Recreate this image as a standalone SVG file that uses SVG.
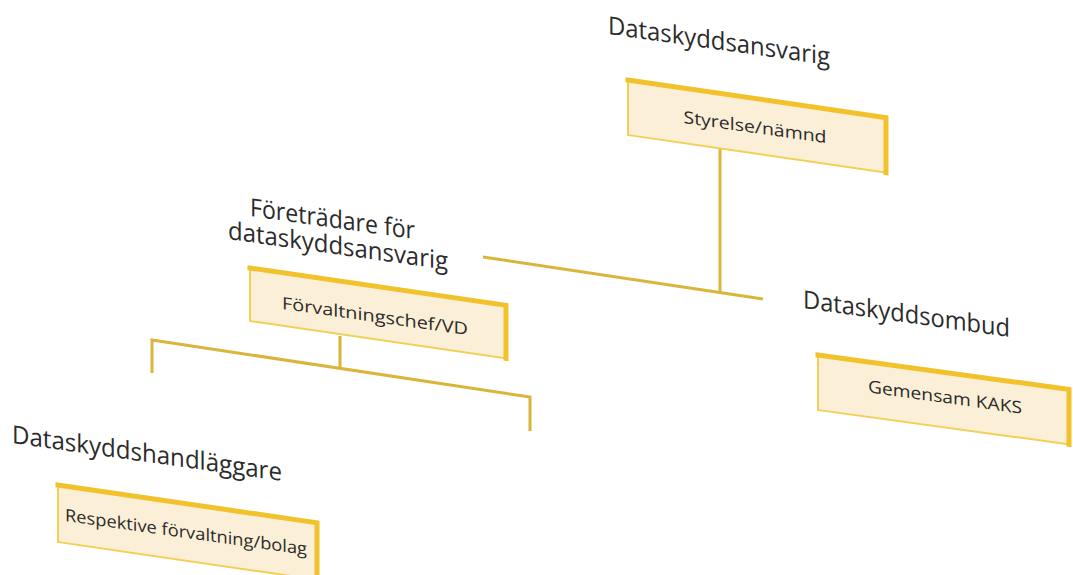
<svg xmlns="http://www.w3.org/2000/svg" width="1073" height="575" viewBox="0 0 1073 575">
<style>
  .title { font-family: "Open Sans", "Liberation Sans", sans-serif; font-size: 25px; fill: #2b2b2b; }
  .label { font-family: "Open Sans", "Liberation Sans", sans-serif; font-size: 17px; font-weight: 500; fill: #2b2b2b; text-anchor: middle; }
  .boxfill { fill: #fcefd7; stroke: #f3cf55; stroke-width: 2; }
  .edge { stroke: #f2c22c; stroke-width: 5; stroke-linecap: square; fill: none; }
  .conn { stroke: #d9b53a; stroke-width: 3; fill: none; stroke-linecap: butt; }
</style>
<rect width="1073" height="575" fill="#ffffff"/>

<g id="connectors">
  <line class="conn" x1="483" y1="257" x2="763" y2="299"/>
  <line class="conn" x1="720" y1="148" x2="720" y2="293"/>
  <line class="conn" x1="340" y1="336" x2="340" y2="369"/>
  <polyline class="conn" points="152,373 152,340 530,397 530,431"/>
</g>

<g id="title-dataskyddsansvarig">
  <text class="title" transform="translate(608,34) skewY(8)" textLength="222" lengthAdjust="spacingAndGlyphs">Dataskyddsansvarig</text>
</g>

<g id="node-styrelse">
  <g transform="translate(628,80) skewY(8.3)">
    <rect class="boxfill" x="0" y="0" width="258" height="55"/>
    <polyline class="edge" points="0,0 258,0 258,55"/>
  </g>
  <text class="label" transform="translate(755,133) skewY(8)" textLength="143" lengthAdjust="spacingAndGlyphs">Styrelse/nämnd</text>
</g>

<g id="title-foretradare">
  <text class="title" transform="translate(250,216) skewY(8)" textLength="165" lengthAdjust="spacingAndGlyphs">Företrädare för</text>
  <text class="title" transform="translate(228,239) skewY(8)" textLength="220" lengthAdjust="spacingAndGlyphs">dataskyddsansvarig</text>
</g>

<g id="node-forvaltningschef">
  <g transform="translate(250,268) skewY(8.3)">
    <rect class="boxfill" x="0" y="0" width="256" height="53"/>
    <polyline class="edge" points="0,0 256,0 256,53"/>
  </g>
  <text class="label" transform="translate(375,322) skewY(8)" textLength="186" lengthAdjust="spacingAndGlyphs">Förvaltningschef/VD</text>
</g>

<g id="title-dataskyddsombud">
  <text class="title" transform="translate(803,308) skewY(8)" textLength="207" lengthAdjust="spacingAndGlyphs">Dataskyddsombud</text>
</g>

<g id="node-kaks">
  <g transform="translate(818,355) skewY(7.8)">
    <rect class="boxfill" x="0" y="0" width="251" height="55"/>
    <polyline class="edge" points="0,0 251,0 251,55"/>
  </g>
  <text class="label" transform="translate(945,403) skewY(8)" textLength="154" lengthAdjust="spacingAndGlyphs">Gemensam KAKS</text>
</g>

<g id="title-dataskyddshandlaggare">
  <text class="title" transform="translate(12,443) skewY(8)" textLength="270" lengthAdjust="spacingAndGlyphs">Dataskyddshandläggare</text>
</g>

<g id="node-respektive">
  <g transform="translate(58,485) skewY(8.3)">
    <rect class="boxfill" x="0" y="0" width="259" height="57"/>
    <polyline class="edge" points="0,0 259,0 259,57"/>
  </g>
  <text class="label" transform="translate(186,538) skewY(8)" textLength="242" lengthAdjust="spacingAndGlyphs">Respektive förvaltning/bolag</text>
</g>
</svg>
